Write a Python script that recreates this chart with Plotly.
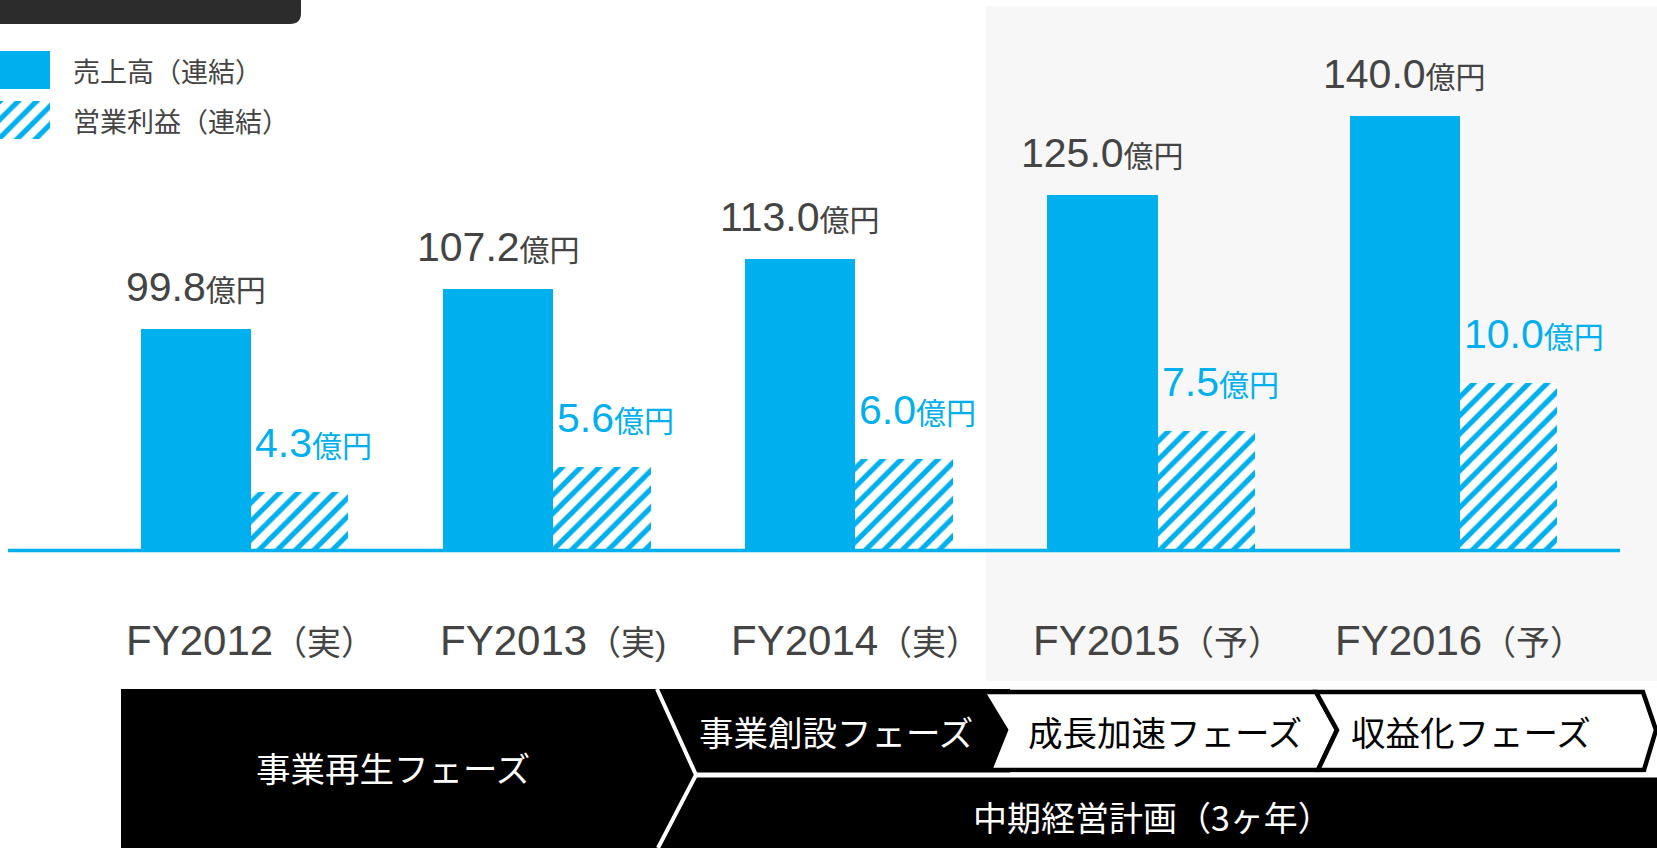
import plotly.graph_objects as go

# ---------------- data ----------------
categories = ["FY2012（実）", "FY2013（実)", "FY2014（実）", "FY2015（予）", "FY2016（予）"]
revenue = [99.8, 107.2, 113.0, 125.0, 140.0]      # 売上高（連結） 億円
profit = [4.3, 5.6, 6.0, 7.5, 10.0]                # 営業利益（連結） 億円
unit = "億円"
series_names = ["売上高（連結）", "営業利益（連結）"]
phase_labels = ["事業再生フェーズ", "事業創設フェーズ", "成長加速フェーズ", "収益化フェーズ"]
plan_label = "中期経営計画（3ヶ年）"

# ---------------- style ----------------
W, H = 1657, 848
PB = 551  # pixel y of plot-area bottom (baseline)
BLUE = "#00b0ee"
GRAY_TXT = "#444444"
NUM_FONT = "Liberation Sans, Arial, Noto Sans CJK JP, sans-serif"
CJK_FONT = "Noto Sans CJK JP, sans-serif"
REV_W = 0.365
PRO_W = 0.322
HATCH = dict(shape="/", size=13, solidity=0.4, fgcolor=BLUE, bgcolor="white", fillmode="replace")


def px(x):
    return x / W


def py(y):
    return (PB - y) / PB


idx = list(range(len(categories)))

fig = go.Figure()

fig.add_trace(go.Bar(
    x=idx, y=revenue, name=series_names[0], width=REV_W, offset=-REV_W,
    marker=dict(color=BLUE, line=dict(width=0)), hoverinfo="skip",
))
fig.add_trace(go.Bar(
    x=idx, y=profit, name=series_names[1], width=PRO_W, offset=0, yaxis="y2",
    marker=dict(color="white", line=dict(width=0), pattern=HATCH),
    hoverinfo="skip",
))
# hatched legend swatch (mini axis)
fig.add_trace(go.Bar(
    x=[0], y=[1], width=1, xaxis="x3", yaxis="y3", showlegend=False,
    marker=dict(color="white", line=dict(width=0), pattern=HATCH),
    hoverinfo="skip",
))

annotations = []
for i, v in zip(idx, revenue):
    annotations.append(dict(
        x=i - REV_W / 2, y=v, xref="x", yref="y", showarrow=False,
        xanchor="center", yanchor="bottom", yshift=17,
        text=f"{v:.1f}<span style='font-size:30px'>{unit}</span>",
        font=dict(size=41, color=GRAY_TXT, family=NUM_FONT),
    ))
for i, v in zip(idx, profit):
    annotations.append(dict(
        x=i, y=v, xref="x", yref="y2", showarrow=False,
        xanchor="left", yanchor="bottom", yshift=24, xshift=2,
        text=f"{v:.1f}<span style='font-size:30px'>{unit}</span>",
        font=dict(size=41, color=BLUE, family=NUM_FONT),
    ))
for i, c in zip(idx, categories):
    annotations.append(dict(
        x=i, y=0, xref="x", yref="paper", showarrow=False,
        xanchor="center", yanchor="middle", yshift=-89,
        text=f"{c[:6]}<span style='font-size:34px'>{c[6:]}</span>",
        font=dict(size=42, color=GRAY_TXT, family=NUM_FONT),
    ))

# legend texts
for name, cy in zip(series_names, [70, 120]):
    annotations.append(dict(
        x=px(71), y=py(cy), xref="paper", yref="paper", showarrow=False,
        xanchor="left", yanchor="middle", text=name,
        font=dict(size=27, color=GRAY_TXT, family=CJK_FONT),
    ))

# phase texts
phase_pos = [(393, 767, "white"), (836, 731, "white"), (1165, 731, "black"), (1471, 731, "black")]
for lab, (cx, cy, col) in zip(phase_labels, phase_pos):
    annotations.append(dict(
        x=px(cx), y=py(cy), xref="paper", yref="paper", showarrow=False,
        xanchor="center", yanchor="middle", text=lab,
        font=dict(size=34.5, color=col, family=CJK_FONT),
    ))
annotations.append(dict(
    x=px(1152), y=py(816), xref="paper", yref="paper", showarrow=False,
    xanchor="center", yanchor="middle", text=plan_label,
    font=dict(size=34, color="white", family=CJK_FONT),
))


def poly(points, closed=True):
    s = "M " + " L ".join(f"{px(x):.5f},{py(y):.5f}" for x, y in points)
    return s + (" Z" if closed else "")


shapes = [
    # gray forecast background
    dict(type="rect", xref="paper", yref="paper", x0=px(986), x1=px(1657), y0=py(681), y1=py(6),
         fillcolor="#f7f7f7", line=dict(width=0), layer="below"),
    # dark header tab
    dict(type="path", xref="paper", yref="paper",
         path=(f"M 0,{py(0):.5f} L {px(301):.5f},{py(0):.5f} L {px(301):.5f},{py(13):.5f} "
               f"Q {px(301):.5f},{py(24):.5f} {px(290):.5f},{py(24):.5f} L 0,{py(24):.5f} Z"),
         fillcolor="#2c2c2c", line=dict(width=0), layer="below"),
    # solid legend swatch
    dict(type="rect", xref="paper", yref="paper", x0=px(0), x1=px(50), y0=py(89), y1=py(51),
         fillcolor=BLUE, line=dict(width=0)),
    # baseline
    dict(type="line", xref="paper", yref="paper", x0=px(8), x1=px(1620), y0=py(550.5), y1=py(550.5),
         line=dict(color=BLUE, width=3.5)),
    # black phase areas
    dict(type="rect", xref="paper", yref="paper", x0=px(121), x1=px(1657), y0=py(848), y1=py(776),
         fillcolor="black", line=dict(width=0)),
    dict(type="rect", xref="paper", yref="paper", x0=px(121), x1=px(1010), y0=py(776), y1=py(689),
         fillcolor="black", line=dict(width=0)),
    # white outlined boxes
    dict(type="path", xref="paper", yref="paper",
         path=poly([(983, 692), (1316, 692), (1337, 730), (1318, 770), (990, 770), (1006, 730)]),
         fillcolor="white", line=dict(color="black", width=4.5)),
    dict(type="path", xref="paper", yref="paper",
         path=poly([(1316, 692), (1643, 692), (1656, 730), (1644, 770), (1318, 770), (1337, 730)]),
         fillcolor="white", line=dict(color="black", width=4.5)),
    # white separator lines
    dict(type="path", xref="paper", yref="paper",
         path=poly([(657, 689), (696, 775), (658, 848)], closed=False),
         fillcolor="rgba(0,0,0,0)", line=dict(color="white", width=4)),
    dict(type="line", xref="paper", yref="paper", x0=px(696), x1=px(1657), y0=py(775), y1=py(775),
         line=dict(color="white", width=5)),
]

fig.update_layout(
    width=W, height=H,
    margin=dict(l=0, r=0, t=0, b=H - PB, autoexpand=False),
    paper_bgcolor="white", plot_bgcolor="rgba(0,0,0,0)",
    showlegend=False, barmode="overlay", bargap=0,
    xaxis=dict(range=[-0.8304, 4.6518], visible=False, fixedrange=True),
    yaxis=dict(range=[57.72, 161.96], visible=False, fixedrange=True),
    yaxis2=dict(range=[1.19, 30.11], overlaying="y", visible=False, fixedrange=True),
    xaxis3=dict(domain=[0, px(50)], range=[-0.5, 0.5], anchor="y3", visible=False, fixedrange=True),
    yaxis3=dict(domain=[py(139), py(101)], range=[0, 1], anchor="x3", visible=False, fixedrange=True),
    shapes=shapes, annotations=annotations,
    hovermode=False,
)

fig.write_html("out.html", config={"displayModeBar": False},
               post_script="document.body.style.margin='0';")
